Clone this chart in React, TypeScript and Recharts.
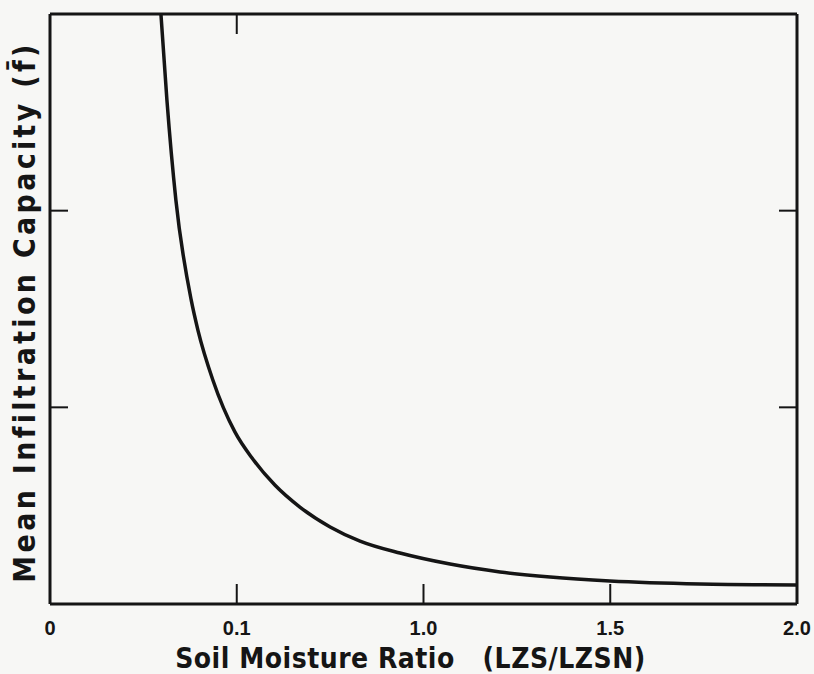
import React from 'react';
import { LineChart, Line, XAxis, YAxis } from 'recharts';

// soil moisture ratio (x) vs mean infiltration capacity (y)
const ratio = [0.297, 0.313, 0.337, 0.378, 0.396, 0.436, 0.495, 0.541, 0.602, 0.669, 0.75, 0.83, 0.937, 1.071, 1.205, 1.339, 1.499, 1.74, 2.0];
const capacity = [3.0, 2.563, 2.054, 1.546, 1.393, 1.139, 0.875, 0.742, 0.605, 0.493, 0.392, 0.32, 0.259, 0.203, 0.163, 0.137, 0.117, 0.102, 0.097];

const xTicks = [0, 0.5, 1, 1.5, 2];
const xTickLabels = ['0', '0.1', '1.0', '1.5', '2.0'];
const yTicks = [1, 2];
const topTicks = [0.5];

const data = ratio.map((r, i) => ({ r, f: capacity[i] }));

const ink = '#151515';
const labelFont = '"DejaVu Sans Condensed", "DejaVu Sans", sans-serif';
const tickFont = '"Liberation Sans Narrow", "Liberation Sans", sans-serif';
const blank = () => '';

const App = () => {
  return (
    <div style={{ position: 'absolute', left: 0, top: 0, width: 814, height: 674, background: '#f7f7f5' }}>
      <LineChart width={814} height={674} data={data} margin={{ top: 0, right: 0, bottom: 0, left: 0 }}>
        <XAxis
          dataKey='r'
          type='number'
          domain={[0, 2]}
          ticks={xTicks}
          interval={0}
          height={70}
          tickSize={-20}
          tickMargin={37}
          tickFormatter={(v: number) => xTickLabels[xTicks.indexOf(v)]}
          axisLine={{ stroke: ink, strokeWidth: 3 }}
          tickLine={{ stroke: ink, strokeWidth: 2 }}
          tick={{ fill: ink, fontFamily: tickFont, fontWeight: 700, fontSize: 20 }}
          label={{
            value: 'Soil Moisture Ratio\u00a0\u00a0\u00a0(LZS/LZSN)',
            position: 'insideBottom',
            offset: 6,
            dx: -13,
            fill: ink,
            fontFamily: labelFont,
            fontWeight: 700,
            fontSize: 28,
            letterSpacing: 0.5,
          }}
        />
        <XAxis
          xAxisId='top'
          dataKey='r'
          type='number'
          orientation='top'
          domain={[0, 2]}
          ticks={topTicks}
          height={14}
          tickSize={-20}
          tickFormatter={blank}
          axisLine={{ stroke: ink, strokeWidth: 3 }}
          tickLine={{ stroke: ink, strokeWidth: 2 }}
        />
        <YAxis
          dataKey='f'
          type='number'
          domain={[0, 3]}
          ticks={yTicks}
          width={50}
          tickSize={-18}
          tickFormatter={blank}
          axisLine={{ stroke: ink, strokeWidth: 3 }}
          tickLine={{ stroke: ink, strokeWidth: 2 }}
          label={{
            value: 'Mean Infiltration Capacity (f\u0304)',
            angle: -90,
            position: 'center',
            dx: -1,
            dy: 3,
            fill: ink,
            fontFamily: labelFont,
            fontWeight: 700,
            fontSize: 30,
            letterSpacing: 3.3,
          }}
        />
        <YAxis
          yAxisId='right'
          dataKey='f'
          type='number'
          orientation='right'
          domain={[0, 3]}
          ticks={yTicks}
          width={17}
          tickSize={-18}
          tickFormatter={blank}
          axisLine={{ stroke: ink, strokeWidth: 3 }}
          tickLine={{ stroke: ink, strokeWidth: 2 }}
        />
        <Line
          type='monotone'
          dataKey='f'
          stroke={ink}
          strokeWidth={3.5}
          dot={false}
          isAnimationActive={false}
        />
      </LineChart>
    </div>
  );
};

export default App;
